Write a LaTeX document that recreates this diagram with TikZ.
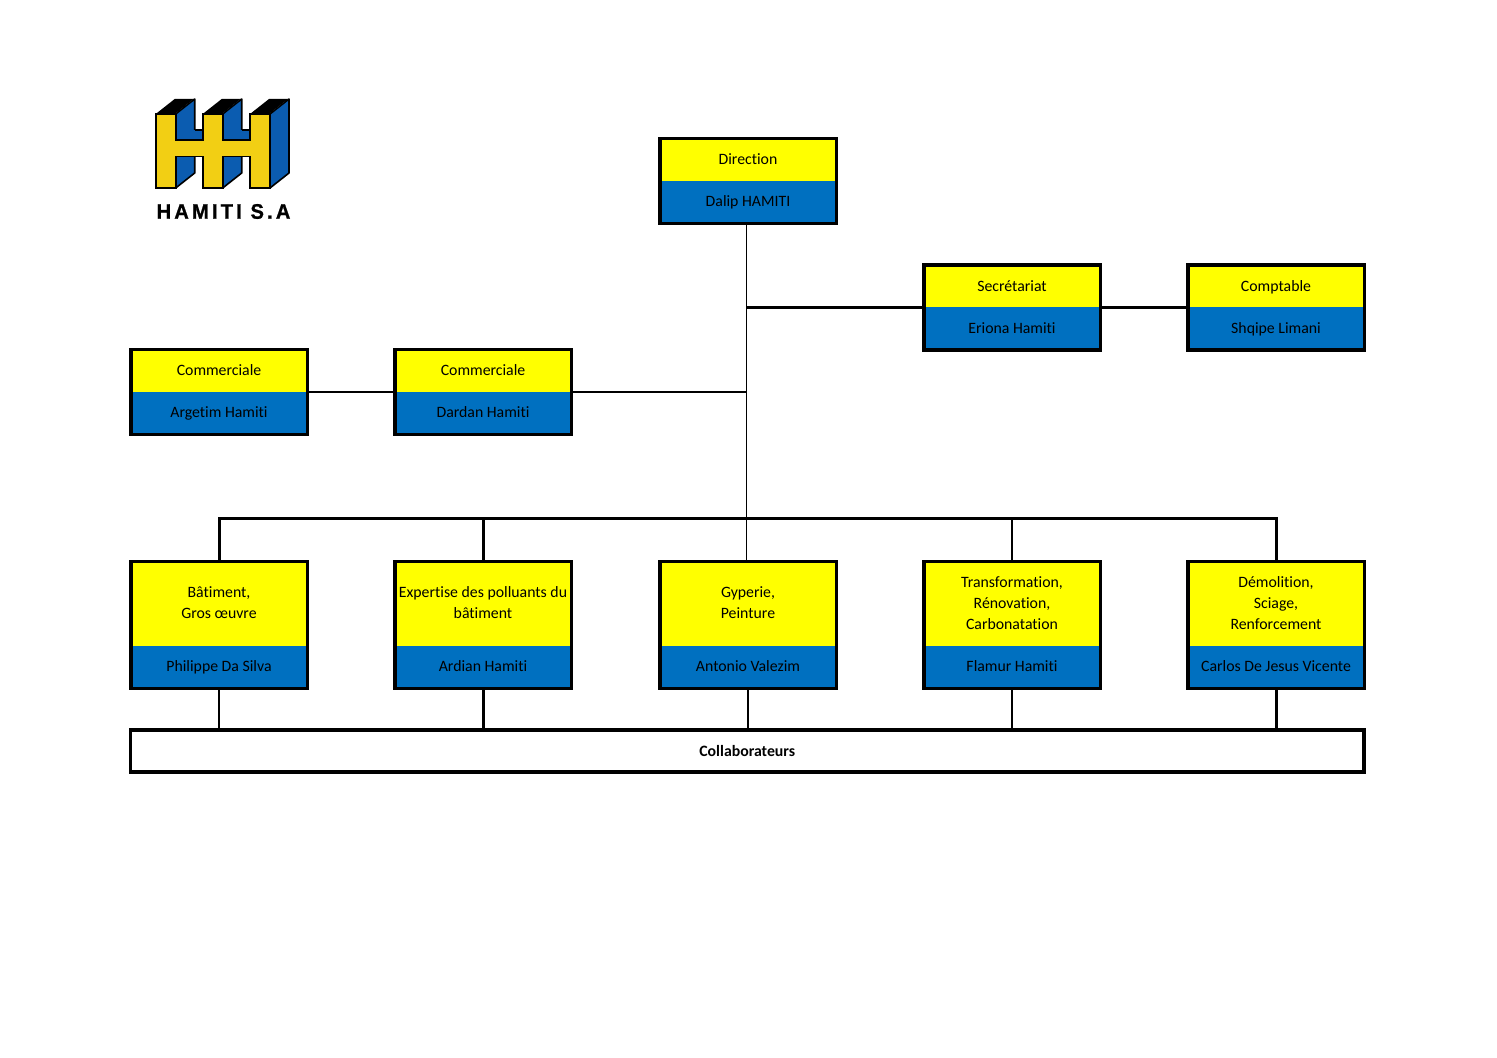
\documentclass[tikz,border=0pt]{standalone}
\usepackage{xcolor}
\usepackage{fontspec}
\setmainfont{Carlito}[Ligatures=CommonOff]
\newfontfamily\logofont{Liberation Sans}[UprightFont=* Bold,LetterSpace=15,FakeBold=1,FakeStretch=.96]
\definecolor{headyellow}{HTML}{FFFF00}
\definecolor{nameblue}{HTML}{0070C0}
\definecolor{logoyellow}{HTML}{F2CF14}
\definecolor{logoblue}{HTML}{0B5CB0}
\tikzset{
  every node/.style={inner sep=0pt,outer sep=0pt,font=\fontsize{7.9}{10.5}\selectfont,align=center},
}
\begin{document}
\begin{tikzpicture}[x=0.5pt,y=-0.5pt]
		\tikzstyle{headbox}=[fill=headyellow,minimum width=88pt,minimum height=21pt,text height=5.4pt,text depth=0.7pt]
		\tikzstyle{tallhead}=[fill=headyellow,minimum width=88pt,minimum height=42pt]
		\tikzstyle{twohead}=[tallhead,minimum height=42.5pt]
		\tikzstyle{namebox}=[fill=nameblue,minimum width=88pt,minimum height=21pt,text height=5.4pt,text depth=0.7pt]
		\tikzstyle{frame}=[draw,line width=1.75pt,minimum width=88.25pt,minimum height=42.5pt]
		\tikzstyle{tallframe}=[frame,minimum height=63.5pt]
		\tikzstyle{thinline}=[line width=0.75pt]
		\tikzstyle{midline}=[line width=1pt]
		\tikzstyle{thickline}=[line width=1.5pt]
		\useasboundingbox (0,0) rectangle (1497,1058);

		% logo
		\foreach \x in {155.7,202.7,250}{
			\fill[black] (\x,114) -- ++(19,-15) -- ++(19,0) -- ++(-19,15) -- cycle;
			\draw[fill=logoblue,line width=0.8pt,line join=round] (\x+20,114) -- ++(19,-15) -- ++(0,74) -- ++(-19,15) -- cycle;
		}
		\fill[logoblue] (176,130) rectangle (203,140);
		\fill[logoblue] (223,130) rectangle (250,140);
		\draw[line width=0.8pt] (195,130) -- (203,130);
		\draw[line width=0.8pt] (242,130) -- (250,130);
		\draw[fill=logoyellow,line width=0.8pt] (155.7,114) -- (176,114) -- (176,140) -- (202.7,140) -- (202.7,114) -- (223,114) -- (223,140) -- (250,140) -- (250,114) -- (270,114)
			-- (270,188) -- (250,188) -- (250,156.7) -- (223,156.7) -- (223,188) -- (202.7,188) -- (202.7,156.7) -- (176,156.7) -- (176,188) -- (155.7,188) -- cycle;
		\node (logotext) at (223.5,211.5) {\logofont\fontsize{10.5}{12}\selectfont HAMITI S.A};

		% first rows
		\node[headbox] (direction) at (748,160) {Direction};
		\node[namebox] (dalip) at (748,202) {Dalip HAMITI};
		\node[frame] (directionbox) at (748,181) {};

		\node[headbox] (secretariat) at (1012,286.5) {Secrétariat};
		\node[namebox] (eriona) at (1012,328.5) {Eriona Hamiti};
		\node[frame] (secretariatbox) at (1012,307.5) {};

		\node[headbox] (comptable) at (1276,286.5) {Comptable};
		\node[namebox] (shqipe) at (1276,328.5) {Shqipe Limani};
		\node[frame] (comptablebox) at (1276,307.5) {};

		\node[headbox] (commerciale1) at (219,371) {Commerciale};
		\node[namebox] (argetim) at (219,413) {Argetim Hamiti};
		\node[frame] (commerciale1box) at (219,392) {};

		\node[headbox] (commerciale2) at (483,371) {Commerciale};
		\node[namebox] (dardan) at (483,413) {Dardan Hamiti};
		\node[frame] (commerciale2box) at (483,392) {};

		% departments
		\node[twohead] (batiment) at (219,603) {Bâtiment,\\Gros œuvre};
		\node[namebox] (philippe) at (219,666.75) {Philippe Da Silva};
		\node[tallframe] (batimentbox) at (219,624.75) {};

		\node[twohead] (expertise) at (483,603) {Expertise des polluants du\\bâtiment};
		\node[namebox] (ardian) at (483,666.75) {Ardian Hamiti};
		\node[tallframe] (expertisebox) at (483,624.75) {};

		\node[twohead] (gyperie) at (748,603) {Gyperie,\\Peinture};
		\node[namebox] (antonio) at (748,666.75) {Antonio Valezim};
		\node[tallframe] (gyperiebox) at (748,624.75) {};

		\node[tallhead] (transformation) at (1012,603.5) {Transformation,\\Rénovation,\\Carbonatation};
		\node[namebox] (flamur) at (1012,666.75) {Flamur Hamiti};
		\node[tallframe] (transformationbox) at (1012,624.75) {};

		\node[tallhead] (demolition) at (1276,603.5) {Démolition,\\Sciage,\\Renforcement};
		\node[namebox] (carlos) at (1276,666.75) {Carlos De Jesus Vicente};
		\node[tallframe] (demolitionbox) at (1276,624.75) {};

		\node[draw,line width=1.75pt,minimum width=616.75pt,minimum height=21pt] (collaborateurs) at (747.25,751) {\textbf{Collaborateurs}};

		% junctions
		\coordinate (branchsec) at (746.5,307.5);
		\coordinate (branchcom) at (746.5,392);
		\coordinate (bus) at (748,518.5);

		\draw[thinline] ([xshift=-.75pt]directionbox.south) -- ([xshift=-.75pt]gyperiebox.north);
		\draw[thickline] (branchsec) -- (secretariatbox.west);
		\draw[thickline] (secretariatbox.east) -- (comptablebox.west);
		\draw[midline] (branchcom) -- (commerciale2box.east);
		\draw[midline] (commerciale2box.west) -- (commerciale1box.east);

		\draw[thickline] (batimentbox.north) |- (bus) -| (demolitionbox.north);
		\draw[thickline] (expertisebox.north) -- (expertisebox.north |- bus);
		\draw[midline] (transformationbox.north) -- (transformationbox.north |- bus);

		\draw[midline] (batimentbox.south) -- (batimentbox.south |- collaborateurs.north);
		\draw[thickline] (expertisebox.south) -- (expertisebox.south |- collaborateurs.north);
		\draw[midline] (gyperiebox.south) -- (gyperiebox.south |- collaborateurs.north);
		\draw[midline] (transformationbox.south) -- (transformationbox.south |- collaborateurs.north);
		\draw[thickline] (demolitionbox.south) -- (demolitionbox.south |- collaborateurs.north);

	\end{tikzpicture}
\end{document}
